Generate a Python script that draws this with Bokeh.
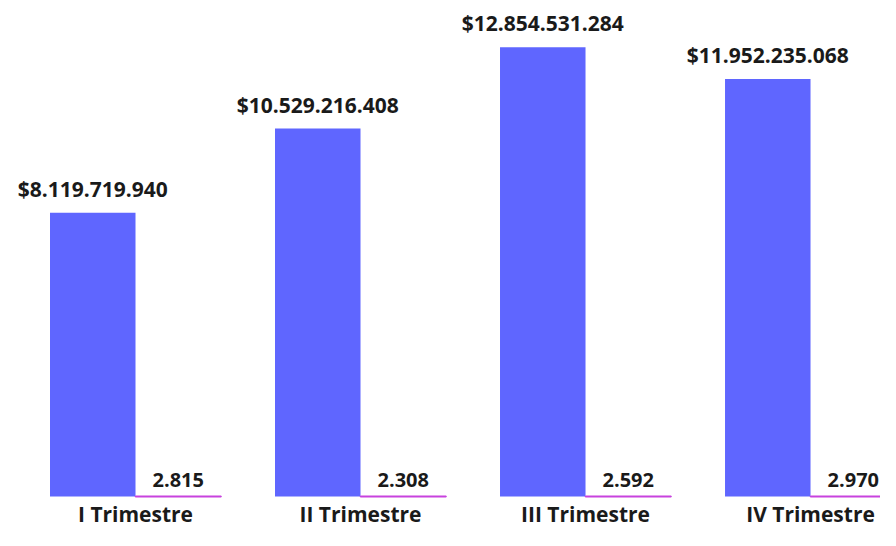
from bokeh.plotting import figure
from bokeh.models import ColumnDataSource, Range1d
from bokeh.transform import dodge
from bokeh.core.properties import value
from bokeh.embed import file_html
from bokeh.resources import INLINE

categories = ["I Trimestre", "II Trimestre", "III Trimestre", "IV Trimestre"]
ventas = [8119719940, 10529216408, 12854531284, 11952235068]
cantidad = [2815, 2308, 2592, 2970]

def fmt(v):
    return f"{v:,.0f}".replace(",", ".")

idx = list(range(len(categories)))
src = ColumnDataSource(dict(
    x=idx,
    cat=categories,
    zero=[0] * len(categories),
    ventas=ventas,
    cantidad=cantidad,
    ventas_lbl=["$" + fmt(v) for v in ventas],
    cant_lbl=[fmt(v) for v in cantidad],
))

FONT = "Open Sans"
TXT = "#1a1a1a"
p = figure(width=880, height=530, output_backend="svg", toolbar_location=None,
           x_range=Range1d(-0.6, 3.311), y_range=Range1d(-0.973e9, 1.4196e10),
           min_border_left=0, min_border_right=0, min_border_top=0, min_border_bottom=0)

p.vbar(x=dodge("x", -0.19, range=p.x_range), top="ventas", width=0.38, source=src,
       fill_color="#5F66FF", line_color=None)
p.vbar(x=dodge("x", 0.19, range=p.x_range), top="cantidad", width=0.38, source=src,
       fill_color="#C842DE", line_color="#C842DE", line_width=2)

p.text(x=dodge("x", -0.19, range=p.x_range), y="ventas", text="ventas_lbl", source=src,
       y_offset=-10, text_align="center", text_baseline="bottom",
       text_font=value(FONT), text_font_style="bold", text_font_size="21px",
       text_color=TXT)
p.text(x=dodge("x", 0.19, range=p.x_range), y="cantidad", text="cant_lbl", source=src,
       y_offset=-10, text_align="center", text_baseline="bottom",
       text_font=value(FONT), text_font_style="bold", text_font_size="20px",
       text_color=TXT)
# category labels under the baseline
p.text(x="x", y="zero", text="cat", source=src,
       y_offset=17, text_align="center", text_baseline="middle",
       text_font=value(FONT), text_font_style="bold", text_font_size="21px",
       text_color=TXT)

p.xaxis.visible = False
p.yaxis.visible = False
p.xgrid.visible = False
p.ygrid.visible = False
p.outline_line_color = None

open("out.html", "w").write(file_html(p, INLINE))
